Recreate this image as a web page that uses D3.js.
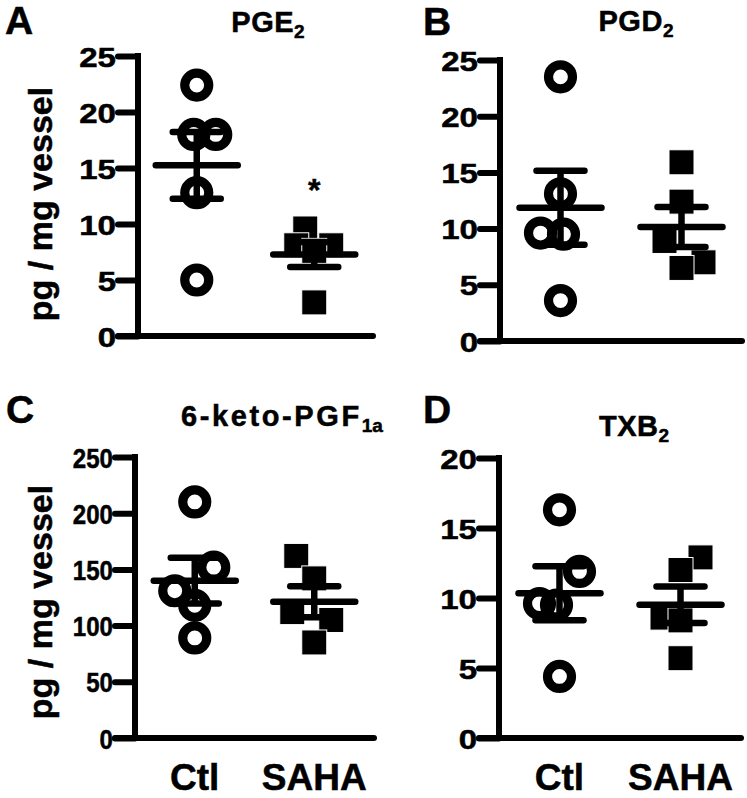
<!DOCTYPE html>
<html><head><meta charset="utf-8">
<script src="https://cdn.jsdelivr.net/npm/d3@7"></script>
<style>
body{margin:0;background:#fff}
text{font-family:"Liberation Sans", Arial, Helvetica, sans-serif;font-weight:bold;fill:#000;stroke:#000;stroke-width:0.5px}
</style>
</head><body>
<svg id="chart" width="747" height="798"></svg>
<script>
// ---------- data ----------
const groups = ["Ctl", "SAHA"];

// A: PGE2
const pge2Ctl = [22.4, 18.0, 18.0, 12.8, 5.0];
const pge2Saha = [9.6, 8.1, 8.1, 7.6, 3.0];
const pge2CtlJitter = [0, -0.15, 0.95, 0, 0];
const pge2SahaJitter = [-0.45, -0.9, 0.85, 0, 0];
const pge2Ticks = [0, 5, 10, 15, 20, 25];

// B: PGD2
const pgd2Ctl = [23.5, 13.1, 9.6, 9.5, 3.6];
const pgd2Saha = [15.9, 12.4, 8.9, 7.0, 6.5];
const pgd2CtlJitter = [0, 0, -1, 0.15, 0];
const pgd2SahaJitter = [0, 0, -0.85, 1.1, 0];
const pgd2Ticks = [0, 5, 10, 15, 20, 25];

// C: 6-keto-PGF1a
const ketoCtl = [210, 152, 131, 118, 89];
const ketoSaha = [162, 142, 112, 105, 85];
const ketoCtlJitter = [0, 0.95, -1, 0, 0];
const ketoSahaJitter = [-0.9, 0, -1.1, 0.85, 0];
const ketoTicks = [0, 50, 100, 150, 200, 250];

// D: TXB2
const txb2Ctl = [16.3, 11.9, 9.6, 9.5, 4.4];
const txb2Saha = [12.9, 12.0, 8.6, 8.4, 5.7];
const txb2CtlJitter = [0, 1, -1, -0.15, 0];
const txb2SahaJitter = [1, 0, -0.9, 0, 0];
const txb2Ticks = [0, 5, 10, 15, 20];

const panelLetters = ["A", "B", "C", "D"];
const titleMain = ["PGE", "PGD", "6-keto-PGF", "TXB"];
const titleSub = ["2", "2", "1a", "2"];
const yTitle = "pg / mg vessel";
const significance = [["SAHA", "*"], [], [], []]; // panel A only

// ---------- layout (styles, not data) ----------
const layout = [
  {x0: 138, x1: 373, y0: 336, yTop: 56, letter: [5, 34], title: [268, 32], yLab: [52, 204], xLabels: false, ls: 0.5, tsx: 1.18},
  {x0: 500, x1: 742, y0: 341, yTop: 60, letter: [423, 35], title: [636, 31], yLab: null, xLabels: false, ls: 0.5, tsx: 1.18},
  {x0: 135, x1: 374, y0: 738, yTop: 457, letter: [6, 423], title: [282, 426], yLab: [52, 602], xLabels: true, ls: 2.6, tsx: 0.86},
  {x0: 499, x1: 741, y0: 738, yTop: 458, letter: [423, 423], title: [634, 436], yLab: null, xLabels: true, ls: 0.5, tsx: 1.18}
];

const panels = [
  {ctl: pge2Ctl, saha: pge2Saha, cj: pge2CtlJitter, sj: pge2SahaJitter, ticks: pge2Ticks},
  {ctl: pgd2Ctl, saha: pgd2Saha, cj: pgd2CtlJitter, sj: pgd2SahaJitter, ticks: pgd2Ticks},
  {ctl: ketoCtl, saha: ketoSaha, cj: ketoCtlJitter, sj: ketoSahaJitter, ticks: ketoTicks},
  {ctl: txb2Ctl, saha: txb2Saha, cj: txb2CtlJitter, sj: txb2SahaJitter, ticks: txb2Ticks}
];

const svg = d3.select("#chart");
const AXW = 6, TICK = 20, JIT = 20, CR = 12, CSW = 9.2, SQ = 25;
const MEANH = 41, SEMH = 24, BARW = 6.5;

panels.forEach((p, i) => {
  const L = layout[i];
  const g = svg.append("g");
  const x = d3.scaleBand().domain(groups).range([L.x0, L.x1]).padding(0);
  const y = d3.scaleLinear().domain([0, d3.max(p.ticks)]).range([L.y0, L.yTop]);

  // y axis
  const yAxis = d3.axisLeft(y).tickValues(p.ticks).tickSize(TICK).tickPadding(2).tickFormat(d3.format("d"));
  const ya = g.append("g").attr("transform", `translate(${L.x0},0)`).call(yAxis);
  ya.select(".domain").remove();
  ya.selectAll(".tick line").attr("stroke", "#000").attr("stroke-width", AXW).attr("stroke-linecap", "round");
  ya.selectAll(".tick text").style("font-size", "28px").attr("dy", "0.36em")
    .attr("x", -(TICK + 2) / L.tsx).attr("transform", `scale(${L.tsx},1)`)
    .attr("fill", "#000");
  // vertical line
  g.append("line").attr("x1", L.x0).attr("x2", L.x0).attr("y1", y(0)).attr("y2", y(d3.max(p.ticks)))
    .attr("stroke", "#000").attr("stroke-width", AXW).attr("stroke-linecap", "square");
  // x axis line
  g.append("line").attr("x1", L.x0 - TICK).attr("x2", L.x1).attr("y1", y(0)).attr("y2", y(0))
    .attr("stroke", "#000").attr("stroke-width", AXW).attr("stroke-linecap", "round");

  const cx = k => x(k) + x.bandwidth() / 2;

  // markers
  const ctlPts = p.ctl.map((v, j) => ({v, j: p.cj[j]}));
  const sahaPts = p.saha.map((v, j) => ({v, j: p.sj[j]}));
  g.append("g").selectAll("circle").data(ctlPts).join("circle")
    .attr("cx", d => cx("Ctl") + d.j * JIT).attr("cy", d => y(d.v)).attr("r", CR)
    .attr("fill", "none").attr("stroke", "#000").attr("stroke-width", CSW);
  g.append("g").selectAll("rect").data(sahaPts).join("rect")
    .attr("x", d => cx("SAHA") + d.j * JIT - SQ / 2).attr("y", d => y(d.v) - SQ / 2)
    .attr("width", SQ).attr("height", SQ).attr("fill", "#000").attr("stroke", "#fff").attr("stroke-width", 1);

  // mean +/- SEM
  [["Ctl", p.ctl], ["SAHA", p.saha]].forEach(([k, vals]) => {
    const m = d3.mean(vals), se = d3.deviation(vals) / Math.sqrt(vals.length);
    const c = cx(k);
    const bg = g.append("g").attr("stroke", "#000").attr("stroke-width", BARW).attr("stroke-linecap", "round");
    bg.append("line").attr("x1", c - MEANH).attr("x2", c + MEANH).attr("y1", y(m)).attr("y2", y(m));
    bg.append("line").attr("x1", c).attr("x2", c).attr("y1", y(m + se)).attr("y2", y(m - se)).attr("stroke-linecap", "butt");
    bg.append("line").attr("x1", c - SEMH).attr("x2", c + SEMH).attr("y1", y(m + se)).attr("y2", y(m + se));
    bg.append("line").attr("x1", c - SEMH).attr("x2", c + SEMH).attr("y1", y(m - se)).attr("y2", y(m - se));
  });

  // significance
  if (significance[i].length) {
    const [k, s] = significance[i];
    const top = d3.max(p.saha);
    g.append("text").attr("x", cx(k)).attr("y", y(top) - 27).attr("text-anchor", "middle")
      .style("font-size", "32px").text(s);
  }

  // panel letter
  g.append("text").attr("x", L.letter[0]).attr("y", L.letter[1]).style("font-size", "39px").text(panelLetters[i]);

  // title
  const t = g.append("text").attr("x", L.title[0]).attr("y", L.title[1]).attr("text-anchor", "middle")
    .style("font-size", "29px");
  t.append("tspan").attr("letter-spacing", L.ls).text(titleMain[i]);
  t.append("tspan").attr("dy", 6).style("font-size", "19px").text(titleSub[i]);

  // y title
  if (L.yLab) {
    g.append("text").attr("transform", `translate(${L.yLab[0]},${L.yLab[1]}) rotate(-90)`)
      .attr("text-anchor", "middle").style("font-size", "34px").text(yTitle);
  }
  // x labels
  if (L.xLabels) {
    g.append("g").selectAll("text").data(groups).join("text")
      .attr("x", d => cx(d)).attr("y", 790).attr("text-anchor", "middle")
      .style("font-size", "37px").text(d => d);
  }
});
</script>
</body></html>
